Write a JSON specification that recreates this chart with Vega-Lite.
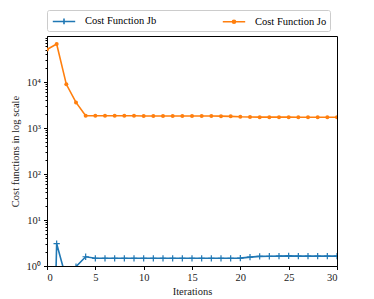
{
  "$schema": "https://vega.github.io/schema/vega-lite/v6.json",
  "width": 290,
  "height": 230,
  "autosize": {"type": "none"},
  "padding": {"left": 47, "top": 36, "right": 37, "bottom": 33},
  "background": "white",
  "config": {
    "font": "Liberation Serif",
    "view": {"stroke": "#000", "strokeWidth": 1},
    "axis": {
      "domainColor": "#000", "tickColor": "#000", "labelColor": "#222", "titleColor": "#222",
      "labelFont": "Liberation Serif", "titleFont": "Liberation Serif",
      "labelFontSize": 10.5, "titleFontSize": 10.5, "titleFontWeight": "normal",
      "grid": false, "tickSize": 3.5
    },
    "legend": {"labelFont": "Liberation Serif", "labelFontSize": 10.5}
  },
  "data": {"values": [
    {"x": 0, "y": 51000, "s": "Cost Function Jo"},
    {"x": 1, "y": 67000, "s": "Cost Function Jo"},
    {"x": 2, "y": 8900, "s": "Cost Function Jo"},
    {"x": 3, "y": 3600, "s": "Cost Function Jo"},
    {"x": 4, "y": 1850, "s": "Cost Function Jo"},
    {"x": 5, "y": 1840, "s": "Cost Function Jo"},
    {"x": 6, "y": 1840, "s": "Cost Function Jo"},
    {"x": 7, "y": 1840, "s": "Cost Function Jo"},
    {"x": 8, "y": 1840, "s": "Cost Function Jo"},
    {"x": 9, "y": 1840, "s": "Cost Function Jo"},
    {"x": 10, "y": 1830, "s": "Cost Function Jo"},
    {"x": 11, "y": 1830, "s": "Cost Function Jo"},
    {"x": 12, "y": 1830, "s": "Cost Function Jo"},
    {"x": 13, "y": 1830, "s": "Cost Function Jo"},
    {"x": 14, "y": 1830, "s": "Cost Function Jo"},
    {"x": 15, "y": 1820, "s": "Cost Function Jo"},
    {"x": 16, "y": 1820, "s": "Cost Function Jo"},
    {"x": 17, "y": 1820, "s": "Cost Function Jo"},
    {"x": 18, "y": 1810, "s": "Cost Function Jo"},
    {"x": 19, "y": 1790, "s": "Cost Function Jo"},
    {"x": 20, "y": 1750, "s": "Cost Function Jo"},
    {"x": 21, "y": 1730, "s": "Cost Function Jo"},
    {"x": 22, "y": 1720, "s": "Cost Function Jo"},
    {"x": 23, "y": 1720, "s": "Cost Function Jo"},
    {"x": 24, "y": 1720, "s": "Cost Function Jo"},
    {"x": 25, "y": 1720, "s": "Cost Function Jo"},
    {"x": 26, "y": 1710, "s": "Cost Function Jo"},
    {"x": 27, "y": 1710, "s": "Cost Function Jo"},
    {"x": 28, "y": 1710, "s": "Cost Function Jo"},
    {"x": 29, "y": 1710, "s": "Cost Function Jo"},
    {"x": 30, "y": 1710, "s": "Cost Function Jo"},
    {"x": 0, "y": 0.00000001, "s": "Cost Function Jb"},
    {"x": 1, "y": 3.05, "s": "Cost Function Jb"},
    {"x": 2, "y": 0.52, "s": "Cost Function Jb"},
    {"x": 3, "y": 0.97, "s": "Cost Function Jb"},
    {"x": 4, "y": 1.59, "s": "Cost Function Jb"},
    {"x": 5, "y": 1.47, "s": "Cost Function Jb"},
    {"x": 6, "y": 1.47, "s": "Cost Function Jb"},
    {"x": 7, "y": 1.47, "s": "Cost Function Jb"},
    {"x": 8, "y": 1.47, "s": "Cost Function Jb"},
    {"x": 9, "y": 1.47, "s": "Cost Function Jb"},
    {"x": 10, "y": 1.47, "s": "Cost Function Jb"},
    {"x": 11, "y": 1.47, "s": "Cost Function Jb"},
    {"x": 12, "y": 1.47, "s": "Cost Function Jb"},
    {"x": 13, "y": 1.47, "s": "Cost Function Jb"},
    {"x": 14, "y": 1.47, "s": "Cost Function Jb"},
    {"x": 15, "y": 1.47, "s": "Cost Function Jb"},
    {"x": 16, "y": 1.47, "s": "Cost Function Jb"},
    {"x": 17, "y": 1.47, "s": "Cost Function Jb"},
    {"x": 18, "y": 1.47, "s": "Cost Function Jb"},
    {"x": 19, "y": 1.47, "s": "Cost Function Jb"},
    {"x": 20, "y": 1.48, "s": "Cost Function Jb"},
    {"x": 21, "y": 1.56, "s": "Cost Function Jb"},
    {"x": 22, "y": 1.62, "s": "Cost Function Jb"},
    {"x": 23, "y": 1.63, "s": "Cost Function Jb"},
    {"x": 24, "y": 1.64, "s": "Cost Function Jb"},
    {"x": 25, "y": 1.66, "s": "Cost Function Jb"},
    {"x": 26, "y": 1.64, "s": "Cost Function Jb"},
    {"x": 27, "y": 1.64, "s": "Cost Function Jb"},
    {"x": 28, "y": 1.64, "s": "Cost Function Jb"},
    {"x": 29, "y": 1.64, "s": "Cost Function Jb"},
    {"x": 30, "y": 1.64, "s": "Cost Function Jb"}
  ]},
  "encoding": {
    "x": {"field": "x", "type": "quantitative",
      "scale": {"domain": [0, 30], "nice": false, "zero": false},
      "axis": {"title": "Iterations", "values": [0, 5, 10, 15, 20, 25, 30], "labelPadding": 3, "titlePadding": 3}},
    "y": {"field": "y", "type": "quantitative",
      "scale": {"type": "log", "domain": [1, 100000], "nice": false}}
  },
  "layer": [
    {
      "mark": {"type": "line", "strokeWidth": 1.6, "clip": true},
      "encoding": {
        "color": {"field": "s", "type": "nominal",
          "scale": {"domain": ["Cost Function Jb", "Cost Function Jo"], "range": ["#1f77b4", "#ff7f0e"]},
          "legend": {
            "title": null, "orient": "top", "direction": "horizontal", "columns": 2,
            "offset": 5, "columnPadding": 62, "padding": 3, "strokeColor": "#ccc", "cornerRadius": 2,
            "symbolType": "stroke", "symbolSize": 196, "symbolStrokeWidth": 1.6, "labelOffset": 13,
            "symbolOffset": 6,
            "encode": {"symbols": {"update": {"shape": {"signal": "datum.value === 'Cost Function Jb' ? 'M-1.6,0H1.6M0,-0.42V0.42' : 'M-1.6,0H1.6M0.22,0A0.22,0.22 0 1,1 -0.22,0A0.22,0.22 0 1,1 0.22,0'"}}}}
          }},
        "y": {"field": "y", "type": "quantitative",
          "axis": {"title": "Cost functions in log scale", "values": [1, 10, 100, 1000, 10000],
            "labelExpr": "datum.value == 1 ? '10⁰' : datum.value == 10 ? '10¹' : datum.value == 100 ? '10²' : datum.value == 1000 ? '10³' : '10⁴'",
            "labelPadding": 3, "titlePadding": 6}}
      }
    },
    {
      "transform": [{"filter": "datum.s === 'Cost Function Jo'"}],
      "mark": {"type": "point", "shape": "circle", "filled": true, "size": 16, "opacity": 1, "color": "#ff7f0e", "clip": true},
      "encoding": {"y": {"field": "y", "type": "quantitative", "axis": null}}
    },
    {
      "transform": [{"filter": "datum.s === 'Cost Function Jb'"}],
      "mark": {"type": "point", "shape": "M-1,0H1M0,-1V1", "filled": false, "size": 40, "opacity": 1, "strokeWidth": 1.2, "color": "#1f77b4", "clip": true},
      "encoding": {"y": {"field": "y", "type": "quantitative", "axis": null}}
    },
    {
      "mark": {"type": "line", "opacity": 0, "clip": true},
      "encoding": {
        "y": {"field": "y", "type": "quantitative",
          "axis": {"orient": "left", "title": null, "labels": false, "domain": false, "tickSize": 2,
            "values": [2,3,4,5,6,7,8,9,20,30,40,50,60,70,80,90,200,300,400,500,600,700,800,900,2000,3000,4000,5000,6000,7000,8000,9000,20000,30000,40000,50000,60000,70000,80000,90000]}}
      }
    }
  ],
  "resolve": {"axis": {"y": "independent"}}
}
